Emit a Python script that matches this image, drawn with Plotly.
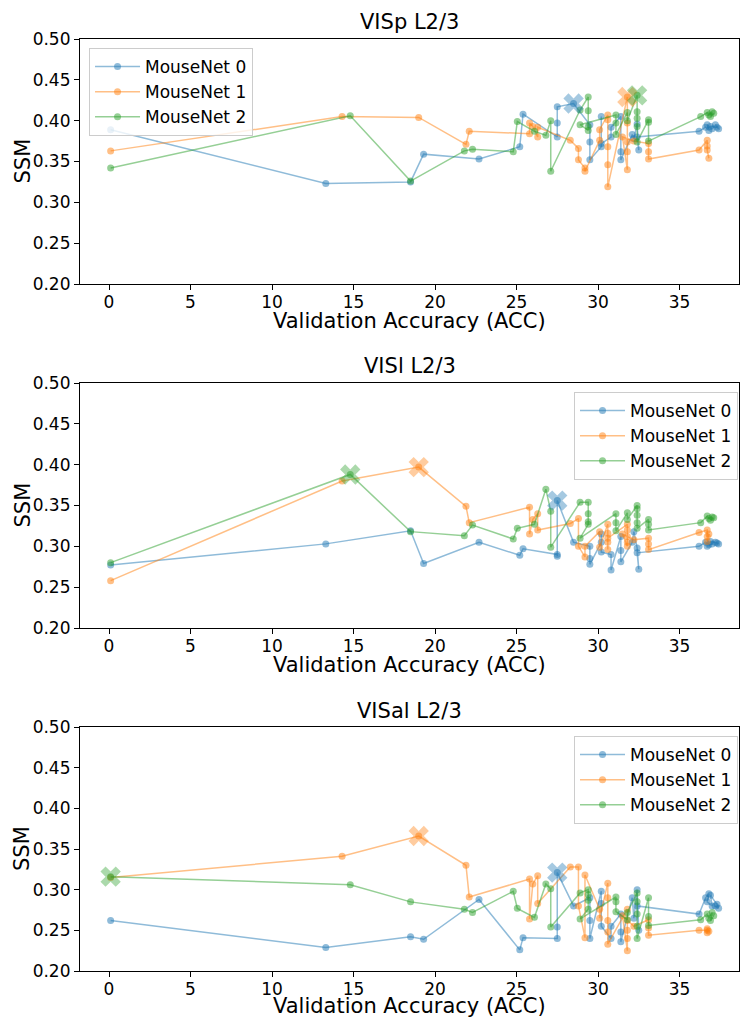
import plotly.graph_objects as go

# ---------------- data ----------------
panel_titles = ["VISp L2/3", "VISl L2/3", "VISal L2/3"]
series_names = ["MouseNet 0", "MouseNet 1", "MouseNet 2"]
x_ticks = [0, 5, 10, 15, 20, 25, 30, 35]
y_ticks = [0.20, 0.25, 0.30, 0.35, 0.40, 0.45, 0.50]

# validation accuracy of each checkpoint (shared across panels)
acc_net0 = [0.1, 13.3, 18.5, 19.3, 22.7, 25.2, 25.4, 27.5, 27.5, 27.5, 28.5, 29.5, 29.5, 29.5,
            30.2, 30.2, 30.2, 30.8, 30.8, 31.4, 31.4, 31.4, 32.1, 32.2, 32.4, 32.5, 32.4,
            36.2, 36.6, 36.8, 36.7, 37.0, 36.9, 37.3, 37.4, 37.2]
acc_net1 = [0.1, 14.3, 19.0, 21.9, 22.1, 25.8, 25.8, 26.0, 26.3, 26.3, 28.3, 28.8, 28.8, 29.2,
            29.2, 30.1, 30.1, 30.6, 30.6, 30.6, 30.6, 30.6, 31.8, 31.8, 31.8, 31.8, 31.8,
            31.5, 32.2, 33.1, 33.1, 33.1, 36.2, 36.7, 36.7, 36.7, 36.8]
acc_net2 = [0.1, 14.8, 18.5, 21.8, 22.3, 24.8, 25.05, 26.1, 26.8, 27.1, 27.1, 28.9, 29.4, 29.4,
            29.4, 29.4, 28.9, 31.1, 31.1, 31.1, 31.8, 31.8, 32.4, 32.4, 32.4, 32.4, 32.4,
            33.1, 33.1, 33.1, 36.3, 36.7, 36.8, 37.0, 36.9, 37.1]

# SSM values, panel VISp
visp_net0 = [0.389, 0.323, 0.325, 0.359, 0.353, 0.368, 0.408, 0.380, 0.397, 0.417, 0.421, 0.395, 0.374, 0.352,
             0.368, 0.405, 0.372, 0.380, 0.392, 0.405, 0.362, 0.352, 0.383, 0.378, 0.396, 0.364, 0.380,
             0.387, 0.392, 0.388, 0.395, 0.390, 0.393, 0.392, 0.390, 0.395]
visp_net1 = [0.363, 0.405, 0.404, 0.371, 0.387, 0.384, 0.397, 0.393, 0.380, 0.392, 0.376, 0.366, 0.352, 0.342,
             0.338, 0.376, 0.389, 0.407, 0.401, 0.368, 0.346, 0.319, 0.429, 0.397, 0.374, 0.362, 0.340,
             0.380, 0.375, 0.372, 0.362, 0.353, 0.364, 0.376, 0.369, 0.364, 0.354]
visp_net2 = [0.342, 0.406, 0.326, 0.363, 0.365, 0.362, 0.399, 0.387, 0.382, 0.400, 0.338, 0.413, 0.429, 0.412,
             0.393, 0.388, 0.395, 0.407, 0.397, 0.383, 0.410, 0.400, 0.431, 0.411, 0.403, 0.393, 0.374,
             0.401, 0.398, 0.375, 0.405, 0.410, 0.407, 0.411, 0.405, 0.409]

# SSM values, panel VISl
visl_net0 = [0.277, 0.303, 0.319, 0.279, 0.305, 0.289, 0.297, 0.290, 0.288, 0.356, 0.305, 0.300, 0.285, 0.278,
             0.305, 0.315, 0.293, 0.290, 0.271, 0.312, 0.295, 0.281, 0.305, 0.318, 0.298, 0.272, 0.292,
             0.300, 0.305, 0.302, 0.300, 0.303, 0.306, 0.304, 0.303, 0.305]
visl_net1 = [0.258, 0.380, 0.397, 0.349, 0.329, 0.348, 0.315, 0.333, 0.340, 0.320, 0.328, 0.334, 0.300, 0.287,
             0.300, 0.318, 0.299, 0.327, 0.316, 0.305, 0.296, 0.310, 0.327, 0.320, 0.312, 0.305, 0.300,
             0.315, 0.308, 0.310, 0.303, 0.296, 0.317, 0.320, 0.312, 0.306, 0.315]
visl_net2 = [0.280, 0.388, 0.318, 0.313, 0.326, 0.309, 0.322, 0.327, 0.370, 0.343, 0.299, 0.354, 0.354, 0.340,
             0.330, 0.327, 0.310, 0.340, 0.329, 0.319, 0.341, 0.333, 0.350, 0.346, 0.338, 0.329, 0.322,
             0.333, 0.327, 0.320, 0.329, 0.337, 0.334, 0.336, 0.332, 0.335]

# SSM values, panel VISal
visal_net0 = [0.262, 0.229, 0.242, 0.239, 0.288, 0.226, 0.241, 0.240, 0.254, 0.321, 0.280, 0.290, 0.262, 0.240,
              0.298, 0.283, 0.255, 0.240, 0.255, 0.270, 0.248, 0.236, 0.290, 0.265, 0.300, 0.250, 0.280,
              0.270, 0.290, 0.295, 0.285, 0.280, 0.293, 0.282, 0.277, 0.280]
visal_net1 = [0.315, 0.341, 0.366, 0.330, 0.291, 0.313, 0.264, 0.307, 0.317, 0.283, 0.328, 0.328, 0.280, 0.241,
              0.318, 0.276, 0.265, 0.308, 0.290, 0.262, 0.248, 0.233, 0.276, 0.262, 0.250, 0.240, 0.225,
              0.268, 0.255, 0.263, 0.253, 0.244, 0.250, 0.250, 0.247, 0.252, 0.249]
visal_net2 = [0.316, 0.306, 0.285, 0.276, 0.272, 0.298, 0.277, 0.266, 0.307, 0.301, 0.254, 0.296, 0.300, 0.294,
              0.287, 0.276, 0.264, 0.291, 0.285, 0.273, 0.263, 0.272, 0.296, 0.285, 0.270, 0.255, 0.240,
              0.290, 0.267, 0.256, 0.263, 0.270, 0.265, 0.272, 0.262, 0.268]

# ---------------- style ----------------
colors = ["#1f77b4", "#ff7f0e", "#2ca02c"]
rgba_lines = ["rgba(31,119,180,0.5)", "rgba(255,127,14,0.5)", "rgba(44,160,44,0.5)"]
FONT = "DejaVu Sans"
H = 1017.0

acc = [acc_net0, acc_net1, acc_net2]
ssm = [[visp_net0, visp_net1, visp_net2],
       [visl_net0, visl_net1, visl_net2],
       [visal_net0, visal_net1, visal_net2]]

# panel geometry in pixels (top, bottom of plot area)
panel_px = [(39, 284), (383, 628), (727, 971)]
title_px = [22, 366, 711]
xlabel_px = [321, 665, 1006]
legend_cfg = [
    dict(x=0.0137, y=1 - 48 / H, xanchor="left", yanchor="top"),
    dict(x=0.9985, y=1 - 392 / H, xanchor="right", yanchor="top"),
    dict(x=0.9985, y=1 - 736 / H, xanchor="right", yanchor="top"),
]

fig = go.Figure()
layout = dict(
    width=740, height=1017,
    margin=dict(l=80, r=1, t=0, b=0, autoexpand=False),
    paper_bgcolor="white", plot_bgcolor="white",
    font=dict(family=FONT, size=17, color="black"),
    annotations=[],
)

for p in range(3):
    xa = "x" if p == 0 else f"x{p+1}"
    ya = "y" if p == 0 else f"y{p+1}"
    leg = "legend" if p == 0 else f"legend{p+1}"
    for s in range(3):
        fig.add_trace(go.Scatter(
            x=acc[s], y=ssm[p][s], mode="lines+markers", name=series_names[s],
            line=dict(color=rgba_lines[s], width=1.5),
            marker=dict(color=colors[s], size=7, opacity=0.5, line=dict(width=0)),
            xaxis=xa, yaxis=ya, legend=leg, showlegend=True,
        ))
    for s in range(3):
        ys = ssm[p][s]
        k = max(range(len(ys)), key=lambda i: ys[i])
        fig.add_trace(go.Scatter(
            x=[acc[s][k]], y=[ys[k]], mode="markers",
            marker=dict(color=colors[s], size=18, symbol="x", opacity=0.4, line=dict(width=0)),
            xaxis=xa, yaxis=ya, showlegend=False, hoverinfo="skip",
        ))

    top, bot = panel_px[p]
    axis_common = dict(
        showline=True, mirror=True, linecolor="black", linewidth=1.2,
        ticks="outside", ticklen=5, tickwidth=1.2, tickcolor="black",
        showgrid=False, zeroline=False, automargin=False,
        tickfont=dict(family=FONT, size=17, color="black"),
    )
    xkey = "xaxis" if p == 0 else f"xaxis{p+1}"
    ykey = "yaxis" if p == 0 else f"yaxis{p+1}"
    layout[xkey] = dict(axis_common, domain=[0, 1], range=[-1.78, 38.65],
                        tickvals=x_ticks, ticktext=[str(v) for v in x_ticks],
                        ticklabelstandoff=-3, anchor=ya)
    layout[ykey] = dict(axis_common, domain=[1 - bot / H, 1 - top / H], range=[0.2, 0.5],
                        tickvals=y_ticks, ticktext=[f"{v:.2f}" for v in y_ticks],
                        anchor=xa)
    layout[leg] = dict(legend_cfg[p], bgcolor="rgba(255,255,255,0.8)",
                       bordercolor="#cccccc", borderwidth=1,
                       font=dict(family=FONT, size=17, color="black"),
                       itemwidth=45, tracegroupgap=0)

    layout["annotations"] += [
        dict(text=panel_titles[p], x=0.5, y=1 - title_px[p] / H, xref="paper", yref="paper",
             xanchor="center", yanchor="middle", showarrow=False, borderpad=0,
             font=dict(family=FONT, size=21, color="black")),
        dict(text="Validation Accuracy (ACC)", x=0.5, y=1 - xlabel_px[p] / H, xref="paper",
             yref="paper", xanchor="center", yanchor="middle", showarrow=False, borderpad=0,
             font=dict(family=FONT, size=21, color="black")),
        dict(text="SSM", x=(22 - 80) / 659.0, y=1 - ((top + bot) / 2) / H, xref="paper",
             yref="paper", xanchor="center", yanchor="middle", textangle=-90, showarrow=False,
             borderpad=0, font=dict(family=FONT, size=21, color="black")),
    ]

fig.update_layout(**layout)
fig.write_html("out.html")
